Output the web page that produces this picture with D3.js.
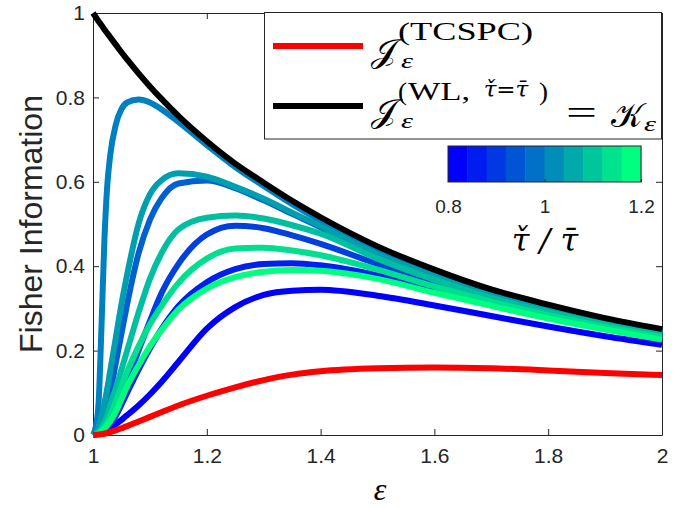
<html>
<head>
<meta charset="utf-8">
<style>
  body { margin: 0; background: #fff; }
  svg { display: block; font-family: Arial, 'Liberation Sans', sans-serif; }
  .axis text { fill: #262626; font-size: 21px; font-family: Arial, 'Liberation Sans', sans-serif; }
  .axis line, .axis path { stroke: #262626; stroke-width: 1; }
  .curve { fill: none; stroke-width: 6; stroke-linejoin: round; stroke-linecap: butt; }
  .math { font-family: 'Liberation Serif', 'DejaVu Serif', serif; fill: #000; }
  .greek { font-family: 'DejaVu Serif', serif; font-style: italic; }
</style>
</head>
<body>
<svg class="chart" width="688" height="508"></svg>
<script src="https://d3js.org/d3.v7.min.js"></script>
<script>

// epsilon grid the curves were read on
var eps = [1, 1.005, 1.01, 1.015, 1.02, 1.025, 1.03, 1.04, 1.05, 1.06, 1.08, 1.1, 1.12, 1.15, 1.2, 1.25, 1.3, 1.35, 1.4, 1.5, 1.6, 1.7, 1.8, 1.9, 2];

// black: J^(WL, tau=tau) = K_eps
var kEps = [1, 0.99, 0.98, 0.971, 0.961, 0.952, 0.943, 0.925, 0.907, 0.89, 0.857, 0.826, 0.797, 0.756, 0.696, 0.643, 0.598, 0.555, 0.516, 0.447, 0.392, 0.345, 0.309, 0.277, 0.251];
// red: J^(TCSPC)
var jTcspc = [0, 0.0005, 0.001, 0.002, 0.003, 0.005, 0.007, 0.011, 0.016, 0.021, 0.032, 0.043, 0.054, 0.07, 0.093, 0.113, 0.13, 0.143, 0.151, 0.158, 0.16, 0.158, 0.153, 0.147, 0.142];

// coloured curves, one per tau-check / tau-bar ratio
var ratios = [0.8, 0.85, 0.9, 0.95, 1.0, 1.05, 1.1, 1.15, 1.2];
var jWl080 = [0, 0.001, 0.003, 0.006, 0.008, 0.011, 0.015, 0.025, 0.036, 0.047, 0.07, 0.096, 0.125, 0.173, 0.252, 0.303, 0.332, 0.342, 0.344, 0.33, 0.307, 0.282, 0.257, 0.234, 0.214];
var jWl085 = [0, 0.001, 0.004, 0.008, 0.013, 0.019, 0.026, 0.045, 0.072, 0.1, 0.155, 0.205, 0.25, 0.305, 0.362, 0.393, 0.405, 0.407, 0.402, 0.378, 0.343, 0.31, 0.279, 0.252, 0.228];
var jWl090 = [0, 0.001, 0.005, 0.011, 0.019, 0.029, 0.041, 0.065, 0.098, 0.13, 0.2, 0.27, 0.335, 0.405, 0.475, 0.496, 0.49, 0.473, 0.453, 0.405, 0.36, 0.32, 0.287, 0.258, 0.234];
var jWl095 = [0, 0.002, 0.01, 0.025, 0.045, 0.07, 0.1, 0.17, 0.24, 0.31, 0.43, 0.51, 0.56, 0.596, 0.603, 0.585, 0.556, 0.524, 0.492, 0.422, 0.372, 0.327, 0.293, 0.264, 0.239];
var jWl100 = [0, 0.02, 0.08, 0.26, 0.46, 0.59, 0.66, 0.735, 0.772, 0.788, 0.795, 0.788, 0.772, 0.742, 0.687, 0.635, 0.59, 0.547, 0.508, 0.435, 0.38, 0.333, 0.298, 0.268, 0.243];
var jWl105 = [0, 0.004, 0.02, 0.045, 0.075, 0.11, 0.15, 0.23, 0.31, 0.38, 0.5, 0.57, 0.603, 0.62, 0.612, 0.588, 0.56, 0.527, 0.495, 0.428, 0.376, 0.33, 0.296, 0.266, 0.241];
var jWl110 = [0, 0.002, 0.008, 0.018, 0.03, 0.045, 0.07, 0.11, 0.155, 0.2, 0.29, 0.37, 0.43, 0.487, 0.515, 0.52, 0.513, 0.497, 0.477, 0.418, 0.368, 0.325, 0.291, 0.262, 0.237];
var jWl115 = [0, 0.001, 0.005, 0.011, 0.02, 0.03, 0.045, 0.08, 0.115, 0.15, 0.21, 0.262, 0.305, 0.36, 0.418, 0.442, 0.444, 0.437, 0.426, 0.392, 0.352, 0.316, 0.284, 0.256, 0.232];
var jWl120 = [0, 0.001, 0.004, 0.009, 0.015, 0.023, 0.032, 0.055, 0.085, 0.115, 0.165, 0.21, 0.248, 0.297, 0.347, 0.374, 0.387, 0.391, 0.389, 0.37, 0.337, 0.306, 0.276, 0.25, 0.226];
var jWl = [jWl080, jWl085, jWl090, jWl095, jWl100, jWl105, jWl110, jWl115, jWl120];

var xTicks = [1, 1.2, 1.4, 1.6, 1.8, 2];
var yTicks = [0, 0.2, 0.4, 0.6, 0.8, 1];
var cbEdges = [0.8, 0.84, 0.88, 0.92, 0.96, 1.0, 1.04, 1.08, 1.12, 1.16, 1.2];
var cbTicks = [0.8, 1, 1.2];

var svg = d3.select('.chart');
svg.append('rect').attr('width', 688).attr('height', 508).attr('fill', '#fff');

var x = d3.scaleLinear().domain([1, 2]).range([93, 662]);
var y = d3.scaleLinear().domain([0, 1]).range([435, 13]);

// matlab "winter" colormap
var winter = d3.interpolateRgb('rgb(0,0,255)', 'rgb(0,255,128)');
var ratioColor = d3.scaleLinear().domain([0.8, 1.2]).range([0, 1]);

var fmt = d3.format('~g');

// axes box, ticks pointing inward
svg.append('g').attr('class', 'axis').attr('transform', 'translate(0,435)')
  .call(d3.axisBottom(x).tickValues(xTicks).tickFormat(fmt).tickSizeInner(-6).tickSizeOuter(0).tickPadding(13));
svg.append('g').attr('class', 'axis').attr('transform', 'translate(0,13)')
  .call(d3.axisTop(x).tickValues(xTicks).tickFormat('').tickSizeInner(-6).tickSizeOuter(0));
svg.append('g').attr('class', 'axis').attr('transform', 'translate(93,0)')
  .call(d3.axisLeft(y).tickValues(yTicks).tickFormat(fmt).tickSizeInner(-6).tickSizeOuter(0).tickPadding(8));
svg.append('g').attr('class', 'axis').attr('transform', 'translate(662,0)')
  .call(d3.axisRight(y).tickValues(yTicks).tickFormat('').tickSizeInner(-6).tickSizeOuter(0));

var line = d3.line()
  .x(function(d, i) { return x(eps[i]); })
  .y(function(d) { return y(d); })
  .curve(d3.curveMonotoneX);

svg.selectAll('.wl')
  .data(jWl)
  .enter()
  .append('path')
  .attr('class', 'curve wl')
  .attr('d', line)
  .attr('stroke', function(d, i) { return winter(ratioColor(ratios[i])); });

svg.append('path').attr('class', 'curve').attr('d', line(kEps)).attr('stroke', '#000').attr('stroke-width', 6.5);
svg.append('path').attr('class', 'curve').attr('d', line(jTcspc)).attr('stroke', '#ff0000').attr('stroke-width', 5.5);

// axis labels
svg.append('text')
  .attr('transform', 'translate(42,224) rotate(-90)')
  .attr('text-anchor', 'middle')
  .attr('fill', '#262626')
  .style('font-size', '32px')
  .text('Fisher Information');

svg.append('text')
  .attr('class', 'math')
  .attr('x', 380).attr('y', 500)
  .attr('text-anchor', 'middle')
  .attr('fill', '#262626')
  .style('font-size', '32px').style('font-style', 'italic')
  .text('ε');

// small helper for pieces of math text
function put(parent, str, px, py, size, opts) {
  opts = opts || {};
  var t = parent.append('text')
    .attr('class', opts.greek ? 'math greek' : 'math')
    .attr('x', px).attr('y', py)
    .style('font-size', size + 'px')
    .text(str);
  if (opts.italic) t.style('font-style', 'italic');
  if (opts.width) t.attr('textLength', opts.width).attr('lengthAdjust', 'spacingAndGlyphs');
  if (opts.anchor) t.attr('text-anchor', opts.anchor);
  if (opts.fill) t.attr('fill', opts.fill);
  return t;
}

// legend
var legend = svg.append('g');
legend.append('rect')
  .attr('x', 264.5).attr('y', 12.5).attr('width', 397).attr('height', 126.5)
  .attr('fill', '#fff').attr('stroke', '#262626').attr('stroke-width', 1);
legend.append('line').attr('x1', 273).attr('x2', 363).attr('y1', 46).attr('y2', 46)
  .attr('stroke', '#ff0000').attr('stroke-width', 6);
legend.append('line').attr('x1', 273).attr('x2', 363).attr('y1', 106).attr('y2', 106)
  .attr('stroke', '#000').attr('stroke-width', 6);

// row 1
put(legend, '𝒥', 371, 62, 32, { width: 26 });
put(legend, 'ε', 401, 68, 22, { italic: true, width: 12 });
put(legend, '(TCSPC)', 398, 40, 25, { width: 135 });
// row 2
put(legend, '𝒥', 371, 122, 32, { width: 26 });
put(legend, 'ε', 401, 128, 22, { italic: true, width: 12 });
put(legend, '(', 398, 100, 25, { width: 9 });
put(legend, 'WL,', 408, 100, 25, { width: 62 });
put(legend, 'τ̌=τ̄', 506, 97, 23, { greek: true, anchor: 'middle' });
put(legend, ')', 539, 100, 25, { width: 9 });
put(legend, '=', 566, 124, 34, { width: 31 });
put(legend, '𝒦', 611, 127, 34, { width: 32 });
put(legend, 'ε', 644, 131, 22, { italic: true, width: 12 });

// colorbar
var cb = d3.scaleLinear().domain([0.8, 1.2]).range([448, 641]);
var cbg = svg.append('g');
cbg.selectAll('rect.bin')
  .data(cbEdges.slice(0, -1))
  .enter()
  .append('rect')
  .attr('class', 'bin')
  .attr('x', function(d) { return cb(d); })
  .attr('width', function(d, i) { return cb(cbEdges[i + 1]) - cb(d) + 0.5; })
  .attr('y', 146).attr('height', 36)
  .attr('fill', function(d, i) { return winter(i / (cbEdges.length - 2)); });
cbg.append('rect').attr('x', 448).attr('y', 146).attr('width', 193).attr('height', 36)
  .attr('fill', 'none').attr('stroke', '#262626').attr('stroke-width', 1);
cbg.append('g').attr('class', 'axis').attr('transform', 'translate(0,182)')
  .call(d3.axisBottom(cb).tickValues(cbTicks).tickFormat(fmt).tickSizeInner(-3).tickSizeOuter(0).tickPadding(18))
  .call(function(g) { g.select('.domain').remove(); g.selectAll('text').style('font-size', '19px'); });

// colorbar label: tau-check / tau-bar
put(svg, 'τ̌ / τ̄', 545, 251, 32, { greek: true, anchor: 'middle', fill: '#262626' });

</script>
</body>
</html>
